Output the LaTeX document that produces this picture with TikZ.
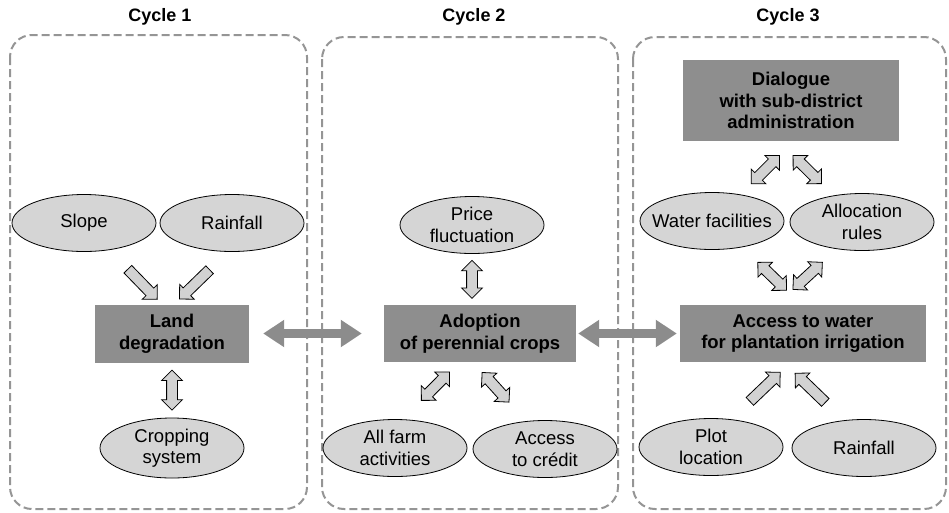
\documentclass[tikz,border=0pt]{standalone}
\usepackage{fontspec}
\setmainfont{Liberation Sans}
\usetikzlibrary{shapes.geometric,shapes.arrows,arrows.meta}

\definecolor{boxgrey}{HTML}{8E8E8E}
\definecolor{ellgrey}{HTML}{D5D5D5}
\definecolor{dashgrey}{HTML}{959595}
\definecolor{arrgrey}{HTML}{8C8C8C}
\definecolor{tipgrey}{HTML}{D2D2D2}

\tikzset{
  cyclebox/.style={draw=dashgrey, line width=2pt, dash pattern=on 8pt off 4pt, rounded corners=22pt},
  cycletitle/.style={font=\bfseries\fontsize{18}{21}\selectfont},
  factor/.style={ellipse, draw, line width=0.8pt, fill=ellgrey, minimum width=144pt, minimum height=57pt,
    inner xsep=-14pt, inner ysep=0pt, align=center, font=\fontsize{18.5}{21.5}\selectfont},
  issue/.style={fill=boxgrey, align=center, font=\bfseries\fontsize{18.5}{21.5}\selectfont},
  onearrow/.style={single arrow, draw, line width=0.8pt, fill=tipgrey, sloped, allow upside down,
    minimum height=42pt, inner xsep=0pt, inner ysep=5pt, single arrow head extend=5pt},
  twoarrow/.style={double arrow, draw, line width=0.8pt, fill=tipgrey, sloped, allow upside down,
    minimum height=40pt, inner xsep=0pt, inner ysep=5pt, double arrow head extend=5pt},
  bigarrow/.style={draw=arrgrey, line width=9pt, {Triangle[width=26pt,length=21pt]}-{Triangle[width=26pt,length=21pt]}}
}

\begin{document}
\begin{tikzpicture}[x=1pt,y=-1pt]
\useasboundingbox (0,0) rectangle (949,512);

% the three cycles
\draw[cyclebox] (10,35) rectangle (307,509);
\draw[cyclebox] (322,37) rectangle (618,509);
\draw[cyclebox] (633,37) rectangle (946,509);
\node[cycletitle] (c1) at (160,17) {Cycle 1};
\node[cycletitle] (c2) at (474,17) {Cycle 2};
\node[cycletitle] (c3) at (788,17) {Cycle 3};

% cycle 1
\node[factor] (slope) at (84,223) {Slope};
\node[factor] (rainA) at (232,223) {Rainfall};
\node[issue, minimum width=154pt, minimum height=58pt] (land) at (172,333.5) {Land\\degradation};
\node[factor, minimum height=60pt] (crop) at (172,448) {Cropping\\system};

% cycle 2
\node[factor] (price) at (472,225) {Price\\fluctuation};
\node[issue, minimum width=192pt, minimum height=57pt] (adopt) at (480,333.5) {Adoption\\of perennial crops};
\node[factor] (farm) at (395,448) {All farm\\activities};
\node[factor] (credit) at (545,449) {Access\\to crédit};

% cycle 3
\node[issue, minimum width=216pt, minimum height=81pt] (dialog) at (791,100.5) {Dialogue\\with sub-district\\administration};
\node[factor] (water) at (712,221) {Water facilities};
\node[factor] (alloc) at (862,222) {Allocation\\rules};
\node[issue, minimum width=246pt, minimum height=57pt] (access) at (803,333.5) {Access to water\\for plantation irrigation};
\node[factor] (plot) at (711,447) {Plot\\location};
\node[factor] (rainB) at (864,448) {Rainfall};

% small arrows
\path (slope.-47) -- node[onearrow, pos=0.595] {} (land.109);
\path (rainA.-98) -- node[onearrow, pos=0.584] {} (land.86);
\path (land.south) -- node[twoarrow] {} (crop.north);
\path (price.south) -- node[twoarrow, minimum height=38pt] {} (price.south |- adopt.north);
\path (adopt.-126) -- node[twoarrow, pos=0.42] {} (farm.75);
\path (adopt.-104) -- node[twoarrow, pos=0.426] {} (credit.124);
\path (dialog.-86) -- node[twoarrow, pos=0.534] {} (water.43);
\path (dialog.-107) -- node[twoarrow, pos=0.523] {} (alloc.137);
\path (water.-41) -- node[twoarrow, pos=0.505] {} (access.93);
\path (alloc.-133) -- node[twoarrow, pos=0.481] {} (access.133);
\path (plot.54) -- node[onearrow, pos=0.535] {} (access.-113);
\path (rainB.126) -- node[onearrow, pos=0.526] {} (access.-124);

% links between the cycles
\draw[bigarrow, shorten <=14pt, shorten >=22pt] (land.east) -- (adopt.west);
\draw[bigarrow, shorten <=2pt, shorten >=3pt] (adopt.east) -- (access.west);
\end{tikzpicture}
\end{document}
